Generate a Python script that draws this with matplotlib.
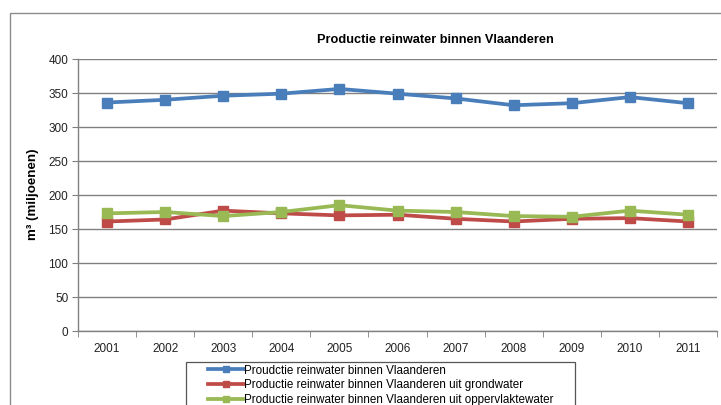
import matplotlib
matplotlib.use("Agg")
import matplotlib.pyplot as plt
from matplotlib.patches import Rectangle
import numpy as np

plt.rcParams['font.family'] = ['Liberation Sans', 'DejaVu Sans']

years = ['2001', '2002', '2003', '2004', '2005', '2006', '2007', '2008', '2009', '2010', '2011']
totaal = [336, 340, 346, 349, 356, 349, 342, 332, 335, 344, 335]
grondwater = [161, 164, 177, 173, 170, 171, 165, 161, 165, 166, 161]
oppervlaktewater = [173, 175, 169, 175, 185, 177, 175, 169, 168, 177, 171]
series_labels = ['Proudctie reinwater binnen Vlaanderen',
                 'Productie reinwater binnen Vlaanderen uit grondwater',
                 'Productie reinwater binnen Vlaanderen uit oppervlaktewater']
colors = ['#4A7EBB', '#BE4B48', '#98B954']
title = 'Productie reinwater binnen Vlaanderen'
ylabel = 'm³ (miljoenen)'
yticks = [0, 50, 100, 150, 200, 250, 300, 350, 400]

W, H = 721, 405
fig = plt.figure(figsize=(W / 100, H / 100), dpi=100)
ax = fig.add_axes([78 / W, 1 - 331 / H, (717 - 78) / W, (331 - 59) / H])

x = np.arange(1, len(years) + 1)
for vals, c, lab in zip([totaal, grondwater, oppervlaktewater], colors, series_labels):
    ax.plot(x, vals, color=c, lw=2.7, marker='s', markersize=6.5, label=lab, zorder=3)

ax.set_xlim(0.5, len(years) + 0.5)
ax.set_ylim(0, 400)
ax.set_yticks(yticks)
ax.set_yticklabels([str(v) for v in yticks], fontsize=8.5, color='#222222')
ax.set_xticks(x)
ax.set_xticklabels(years, fontsize=8.5, color='#222222')
ax.tick_params(axis='x', which='major', length=0, pad=9)
ax.set_xticks(np.arange(0.5, len(years) + 1.0, 1.0), minor=True)
ax.tick_params(axis='x', which='minor', length=4, color='#808080', direction='out')
ax.tick_params(axis='y', length=4, color='#808080', direction='out', pad=3)

ax.grid(axis='y', color='#808080', lw=1.0)
ax.set_axisbelow(True)
for s in ['top', 'right']:
    ax.spines[s].set_visible(False)
for s in ['left', 'bottom']:
    ax.spines[s].set_color('#808080')
    ax.spines[s].set_linewidth(1.0)

fig.text(435 / W, 1 - 40 / H, title, ha='center', va='center', fontsize=9.2, fontweight='bold')
fig.text(33 / W, 1 - 194 / H, ylabel, ha='center', va='center', rotation=90,
         fontsize=9.6, fontweight='bold')

# outer chart frame
fig.patches.append(Rectangle((10 / W, -0.1), 1.2, 1 - 13 / H + 0.1, transform=fig.transFigure,
                             fill=False, edgecolor='#8c8c8c', lw=1.0))
# legend frame
fig.patches.append(Rectangle((186 / W, 1 - 406 / H), (575 - 186) / W, (406 - 362) / H,
                             transform=fig.transFigure, fill=False, edgecolor='#555555',
                             lw=0.9))

leg = fig.legend(loc='upper left', bbox_to_anchor=(208 / W, 1 - 364.5 / H), fontsize=8.4,
                 frameon=False, handlelength=3.05, handletextpad=0.05, labelspacing=0.22,
                 borderpad=0, borderaxespad=0, markerscale=0.75)

fig.savefig('out.png', dpi=100)
